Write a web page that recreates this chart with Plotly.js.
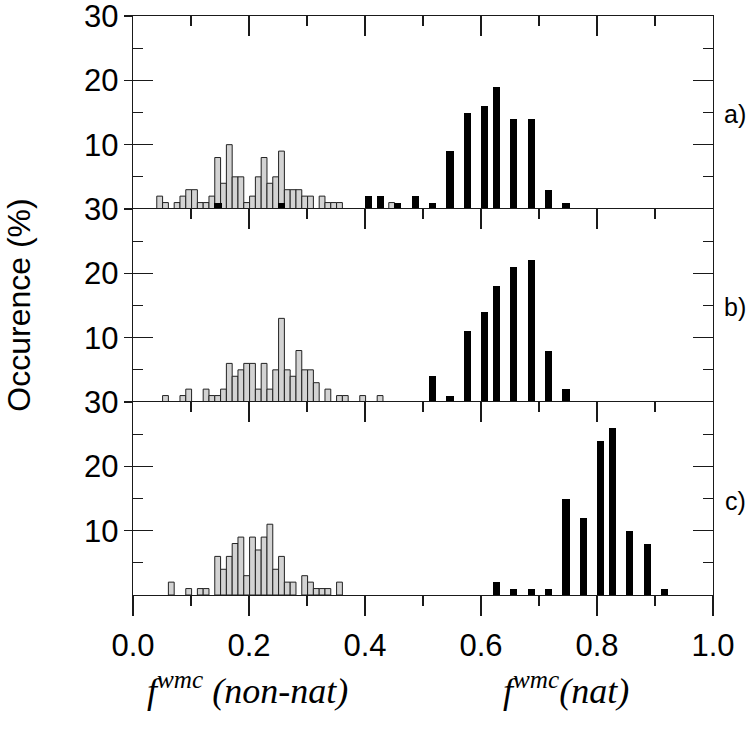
<!DOCTYPE html>
<html><head><meta charset="utf-8">
<script src="https://cdn.plot.ly/plotly-3.0.1.min.js"></script>
<style>html,body{margin:0;padding:0;background:#fff}</style>
</head><body>
<div id="chart" style="width:750px;height:732px"></div>
<script>
// Panel a)
var grayA_x = [0.04,0.05,0.07,0.08,0.09,0.10,0.11,0.12,0.13,0.14,0.15,0.16,0.17,0.18,0.19,0.20,0.21,0.22,0.23,0.24,0.25,0.26,0.27,0.28,0.29,0.30,0.32,0.33,0.34,0.35,0.44];
var grayA_y = [2,1,1,2,3,3,1,1,2,8,4,10,5,5,1,2,5,8,4,5,9,3,3,3,2,2,2,1,1,1,1];
var blackA_x = [0.14,0.25,0.40,0.42,0.45,0.48,0.51,0.54,0.57,0.60,0.62,0.65,0.68,0.71,0.74];
var blackA_y = [1,1,2,2,1,2,1,9,15,16,19,14,14,3,1];
// Panel b)
var grayB_x = [0.05,0.08,0.09,0.12,0.13,0.14,0.15,0.16,0.17,0.18,0.19,0.20,0.21,0.22,0.23,0.24,0.25,0.26,0.27,0.28,0.29,0.30,0.31,0.33,0.35,0.36,0.39,0.42];
var grayB_y = [1,1,2,2,1,1,2,6,4,5,6,6,2,6,2,5,13,5,4,8,5,5,3,2,1,1,1,1];
var blackB_x = [0.51,0.54,0.57,0.60,0.62,0.65,0.68,0.71,0.74];
var blackB_y = [4,1,11,14,18,21,22,8,2];
// Panel c)
var grayC_x = [0.06,0.09,0.11,0.12,0.14,0.15,0.16,0.17,0.18,0.19,0.20,0.21,0.22,0.23,0.24,0.25,0.26,0.27,0.29,0.30,0.31,0.32,0.33,0.35];
var grayC_y = [2,1,1,1,6,4,6,8,9,3,9,7,9,11,4,6,2,2,3,2,1,1,1,2];
var blackC_x = [0.62,0.65,0.68,0.71,0.74,0.77,0.80,0.82,0.85,0.88,0.91];
var blackC_y = [2,1,1,1,15,12,24,26,10,8,1];

var xTickVals = [0,0.2,0.4,0.6,0.8,1.0];
var xTickText = ['0.0','0.2','0.4','0.6','0.8','1.0'];
var yTickVals = [10,20,30];
var yTickText = ['10','20','30'];
var panelLabels = ['a)','b)','c)'];

var LC = '#1a1a1a';
function grayTrace(x,y,xa,ya){
  return {type:'bar',x:x,y:y,xaxis:xa,yaxis:ya,width:0.01,offset:0.001,
    marker:{color:'#d3d3d3',line:{color:'#222',width:1}},hoverinfo:'skip',showlegend:false};
}
function blackTrace(x,y,xa,ya){
  return {type:'bar',x:x,y:y,xaxis:xa,yaxis:ya,width:0.0123,offset:0.0003,
    marker:{color:'#000',line:{width:0}},hoverinfo:'skip',showlegend:false};
}
function ghost(xa,ya){
  return {type:'scatter',mode:'markers',x:[0.5],y:[-5],xaxis:xa,yaxis:ya,marker:{opacity:0,size:1},
    hoverinfo:'skip',showlegend:false,cliponaxis:true};
}
var data = [
  grayTrace(grayA_x,grayA_y,'x','y'), blackTrace(blackA_x,blackA_y,'x','y'),
  grayTrace(grayB_x,grayB_y,'x2','y2'), blackTrace(blackB_x,blackB_y,'x2','y2'),
  grayTrace(grayC_x,grayC_y,'x3','y3'), blackTrace(blackC_x,blackC_y,'x3','y3'),
  ghost('x4','y3'), ghost('x','y4'), ghost('x2','y5'), ghost('x3','y6')
];

var tickFont = {family:'Liberation Sans, Arial, sans-serif', size:31, color:'#000'};
function xTop(anchor){
  return {range:[0,1], anchor:anchor, side:'top', ticks:'inside', ticklen:20, tickwidth:1.3, tickcolor:LC,
    tickvals:xTickVals, ticktext:xTickText, showticklabels:false,
    minor:{dtick:0.1, tick0:0, ticks:'inside', ticklen:10, tickwidth:1.3, tickcolor:LC},
    showline:true, mirror:false, linecolor:LC, linewidth:1.3, showgrid:false, zeroline:false, fixedrange:true};
}
function yMain(domain, anchor){
  return {range:[0,30], domain:domain, anchor:anchor, ticks:'inside', ticklen:20, tickwidth:1.3, tickcolor:LC,
    tickvals:yTickVals, ticktext:yTickText, tickfont:tickFont, ticklabelstandoff:7, ticklabeloverflow:'allow',
    minor:{tickvals:[5,15,25], ticks:'inside', ticklen:10, tickwidth:1.3, tickcolor:LC},
    showline:true, mirror:'ticks', linecolor:LC, linewidth:1.3, showgrid:false, zeroline:false, fixedrange:true};
}
function yOut(over, anchor){
  return {range:[0,30], overlaying:over, anchor:anchor, side:'left', ticks:'outside', ticklen:8, tickwidth:1.3, tickcolor:LC,
    tickvals:yTickVals, showticklabels:false, showline:false, showgrid:false, zeroline:false, fixedrange:true};
}

var d = 1/3;
var layout = {
  width:750, height:732,
  margin:{l:133, r:37, t:16, b:137},
  paper_bgcolor:'#fff', plot_bgcolor:'#fff',
  barmode:'overlay', bargap:0,
  showlegend:false,
  xaxis: xTop('y'),
  xaxis2: xTop('y2'),
  xaxis3: xTop('y3'),
  xaxis4: {range:[0,1], overlaying:'x3', anchor:'y3', side:'bottom', ticks:'outside', ticklen:20, tickwidth:1.3, tickcolor:LC,
    tickvals:xTickVals, ticktext:xTickText, tickfont:tickFont, ticklabeloverflow:'allow', ticklabelstandoff:2,
    minor:{dtick:0.1, tick0:0, ticks:'outside', ticklen:10, tickwidth:1.3, tickcolor:LC},
    showline:true, linecolor:LC, linewidth:1.3, showgrid:false, zeroline:false, fixedrange:true},
  yaxis: yMain([2*d,1],'x'),
  yaxis2: yMain([d,2*d],'x2'),
  yaxis3: yMain([0,d],'x3'),
  yaxis4: yOut('y','x'),
  yaxis5: yOut('y2','x2'),
  yaxis6: yOut('y3','x3'),
  annotations: [
    {text:'Occurence (%)', xref:'paper', yref:'paper', x:-0.198, y:0.5, textangle:-90, showarrow:false,
      font:{family:'Liberation Sans, Arial, sans-serif', size:32, color:'#000'}, xanchor:'center', yanchor:'middle'},
    {text:panelLabels[0], xref:'paper', yref:'paper', x:1.038, y:0.830, showarrow:false, xanchor:'center', yanchor:'middle',
      font:{family:'Liberation Sans, Arial, sans-serif', size:25, color:'#000'}},
    {text:panelLabels[1], xref:'paper', yref:'paper', x:1.038, y:0.497, showarrow:false, xanchor:'center', yanchor:'middle',
      font:{family:'Liberation Sans, Arial, sans-serif', size:25, color:'#000'}},
    {text:panelLabels[2], xref:'paper', yref:'paper', x:1.038, y:0.163, showarrow:false, xanchor:'center', yanchor:'middle',
      font:{family:'Liberation Sans, Arial, sans-serif', size:25, color:'#000'}},
    {text:'<i>f<sup>wmc</sup> (non-nat)</i>', xref:'paper', yref:'paper', x:(247-133)/580, y:-0.162, showarrow:false,
      xanchor:'center', yanchor:'middle', font:{family:'Liberation Serif, Times New Roman, serif', size:36, color:'#000'}},
    {text:'<i>f<sup>wmc</sup>(nat)</i>', xref:'paper', yref:'paper', x:(566-133)/580, y:-0.162, showarrow:false,
      xanchor:'center', yanchor:'middle', font:{family:'Liberation Serif, Times New Roman, serif', size:36, color:'#000'}}
  ]
};
Plotly.newPlot('chart', data, layout, {staticPlot:true, displayModeBar:false});
</script></body></html>
